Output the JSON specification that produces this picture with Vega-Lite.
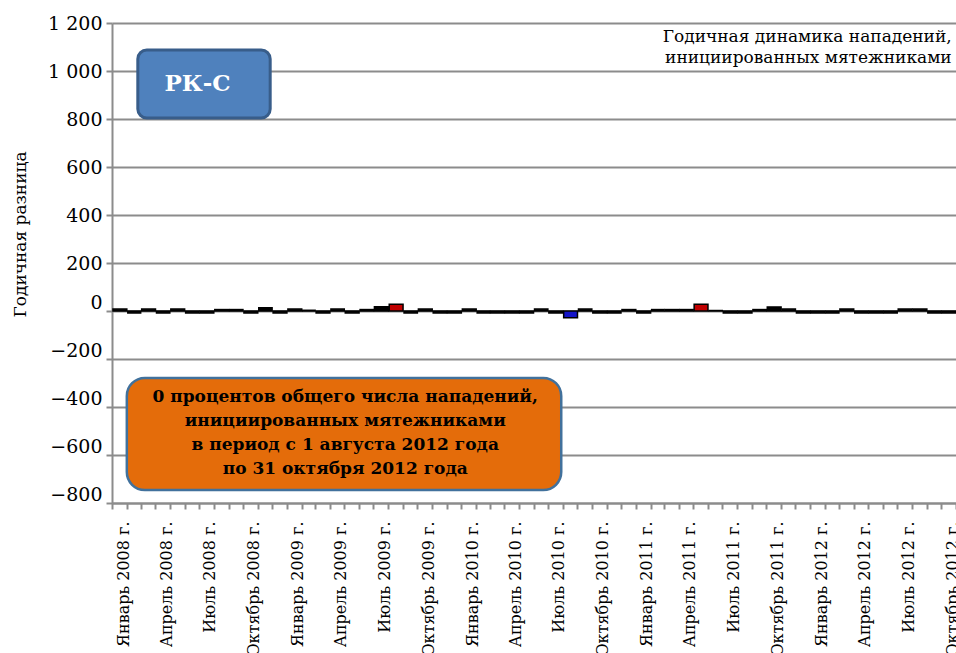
{
  "$schema": "https://vega.github.io/schema/vega-lite/v6.json",
  "width": 844,
  "height": 480,
  "autosize": "none",
  "padding": {"left": 112, "top": 23, "right": 0, "bottom": 150},
  "background": "white",
  "config": {"view": {"stroke": null}, "font": "DejaVu Serif"},
  "encoding": {
    "x": {
      "field": "date", "type": "temporal",
      "scale": {"type": "utc", "domain": ["2008-01-01", "2012-11-01"], "nice": false},
      "axis": {
        "orient": "bottom",
        "title": null,
        "tickCount": {"interval": "month", "step": 1},
        "labelAngle": -90,
        "labelAlign": "right",
        "labelBaseline": "middle",
        "labelFont": "DejaVu Serif",
        "labelFontSize": 16,
        "labelColor": "#000000",
        "labelPadding": 12,
        "labelOffset": 11,
        "labelOverlap": false,
        "labelFlush": false,
        "labelBound": false,
        "labelExpr": "utcmonth(datum.value) % 3 == 0 ? ['Январь','Февраль','Март','Апрель','Май','Июнь','Июль','Август','Сентябрь','Октябрь','Ноябрь','Декабрь'][utcmonth(datum.value)] + ' ' + utcyear(datum.value) + ' г.' : ''",
        "tickColor": "#8c8c8c",
        "tickWidth": 2,
        "tickSize": 6,
        "domainColor": "#8c8c8c",
        "domainWidth": 2,
        "grid": false
      }
    },
    "y": {
      "field": "value", "type": "quantitative",
      "scale": {"domain": [-800, 1200], "nice": false},
      "axis": {
        "title": "Годичная разница",
        "values": [-800, -600, -400, -200, 0, 200, 400, 600, 800, 1000, 1200],
        "grid": true,
        "gridColor": "#8c8c8c",
        "gridWidth": 2,
        "domainColor": "#8c8c8c",
        "domainWidth": 2,
        "tickColor": "#8c8c8c",
        "tickWidth": 2,
        "tickSize": 6,
        "labelFont": "DejaVu Serif",
        "labelFontSize": 19,
        "labelColor": "#000000",
        "labelPadding": 4,
        "labelExpr": "replace(format(datum.value, ','), ',', ' ')",
        "labelOffset": {"condition": {"test": "datum.value <= 0", "value": -9}, "value": 0},
        "titleFont": "DejaVu Serif",
        "titleFontSize": 17,
        "titleFontWeight": "normal",
        "titleColor": "#000000",
        "titleAngle": -90,
        "titleX": -92,
        "titleY": 211,
        "titleAlign": "center",
        "titleBaseline": "middle"
      }
    }
  },
  "layer": [
    {
      "data": {"values": [
        {"date": "2008-01-01", "value": 8},
        {"date": "2008-02-01", "value": -8},
        {"date": "2008-03-01", "value": 8},
        {"date": "2008-04-01", "value": -8},
        {"date": "2008-05-01", "value": 8},
        {"date": "2008-06-01", "value": -8},
        {"date": "2008-07-01", "value": -8},
        {"date": "2008-08-01", "value": 6},
        {"date": "2008-09-01", "value": 6},
        {"date": "2008-10-01", "value": -8},
        {"date": "2008-11-01", "value": 14},
        {"date": "2008-12-01", "value": -8},
        {"date": "2009-01-01", "value": 8},
        {"date": "2009-02-01", "value": 3},
        {"date": "2009-03-01", "value": -8},
        {"date": "2009-04-01", "value": 8},
        {"date": "2009-05-01", "value": -8},
        {"date": "2009-06-01", "value": 6},
        {"date": "2009-07-01", "value": 18},
        {"date": "2009-08-01", "value": 28},
        {"date": "2009-09-01", "value": -8},
        {"date": "2009-10-01", "value": 8},
        {"date": "2009-11-01", "value": -8},
        {"date": "2009-12-01", "value": -8},
        {"date": "2010-01-01", "value": 8},
        {"date": "2010-02-01", "value": -8},
        {"date": "2010-03-01", "value": -8},
        {"date": "2010-04-01", "value": -8},
        {"date": "2010-05-01", "value": -8},
        {"date": "2010-06-01", "value": 8},
        {"date": "2010-07-01", "value": -8},
        {"date": "2010-08-01", "value": -28},
        {"date": "2010-09-01", "value": 8},
        {"date": "2010-10-01", "value": -8},
        {"date": "2010-11-01", "value": -8},
        {"date": "2010-12-01", "value": 6},
        {"date": "2011-01-01", "value": -8},
        {"date": "2011-02-01", "value": 6},
        {"date": "2011-03-01", "value": 6},
        {"date": "2011-04-01", "value": 6},
        {"date": "2011-05-01", "value": 28},
        {"date": "2011-06-01", "value": 2},
        {"date": "2011-07-01", "value": -8},
        {"date": "2011-08-01", "value": -8},
        {"date": "2011-09-01", "value": 6},
        {"date": "2011-10-01", "value": 17},
        {"date": "2011-11-01", "value": 8},
        {"date": "2011-12-01", "value": -8},
        {"date": "2012-01-01", "value": -8},
        {"date": "2012-02-01", "value": -8},
        {"date": "2012-03-01", "value": 8},
        {"date": "2012-04-01", "value": -8},
        {"date": "2012-05-01", "value": -8},
        {"date": "2012-06-01", "value": -8},
        {"date": "2012-07-01", "value": 8},
        {"date": "2012-08-01", "value": 8},
        {"date": "2012-09-01", "value": -8},
        {"date": "2012-10-01", "value": -8}
      ]},
      "mark": {"type": "bar", "stroke": "#000000", "strokeWidth": 1.5},
      "encoding": {
        "x": {"field": "date", "type": "temporal", "timeUnit": "utcyearmonth"},
        "color": {
          "field": "value", "type": "quantitative",
          "scale": {"type": "threshold", "domain": [-20, 22], "range": ["#1414c8", "#000000", "#c00000"]},
          "legend": null
        }
      }
    },
    {
      "data": {"values": [{"date": "2008-02-24", "date2": "2008-11-27", "value": 1087.5, "value2": 804}]},
      "mark": {"type": "rect", "fill": "#4f81bd", "stroke": "#385d8a", "strokeWidth": 3, "cornerRadius": 9},
      "encoding": {
        "x2": {"field": "date2"},
        "y2": {"field": "value2"}
      }
    },
    {
      "data": {"values": [{"date": "2008-06-28", "value": 946, "label": "РК-С"}]},
      "mark": {"type": "text", "font": "DejaVu Serif", "fontSize": 23, "fontWeight": "bold", "color": "#ffffff", "align": "center", "baseline": "middle"},
      "encoding": {"text": {"field": "label"}}
    },
    {
      "data": {"values": [{"date": "2008-02-01", "date2": "2010-07-29", "value": -279, "value2": -746}]},
      "mark": {"type": "rect", "fill": "#e46c0a", "stroke": "#41719c", "strokeWidth": 2.5, "cornerRadius": 18},
      "encoding": {
        "x2": {"field": "date2"},
        "y2": {"field": "value2"}
      }
    },
    {
      "data": {"values": [{"date": "2009-05-03", "value": -358, "label": "0 процентов общего числа нападений,\nинициированных мятежниками\nв период с 1 августа 2012 года\nпо 31 октября 2012 года"}]},
      "mark": {"type": "text", "font": "DejaVu Serif", "fontSize": 17, "fontWeight": "bold", "color": "#000000", "align": "center", "baseline": "middle", "lineBreak": "\n", "lineHeight": 24},
      "encoding": {"text": {"field": "label"}}
    },
    {
      "data": {"values": [{"date": "2012-10-23", "value": 1141, "label": "Годичная динамика нападений,\nинициированных мятежниками"}]},
      "mark": {"type": "text", "font": "DejaVu Serif", "fontSize": 17, "color": "#000000", "align": "right", "baseline": "middle", "lineBreak": "\n", "lineHeight": 21},
      "encoding": {"text": {"field": "label"}}
    }
  ]
}
